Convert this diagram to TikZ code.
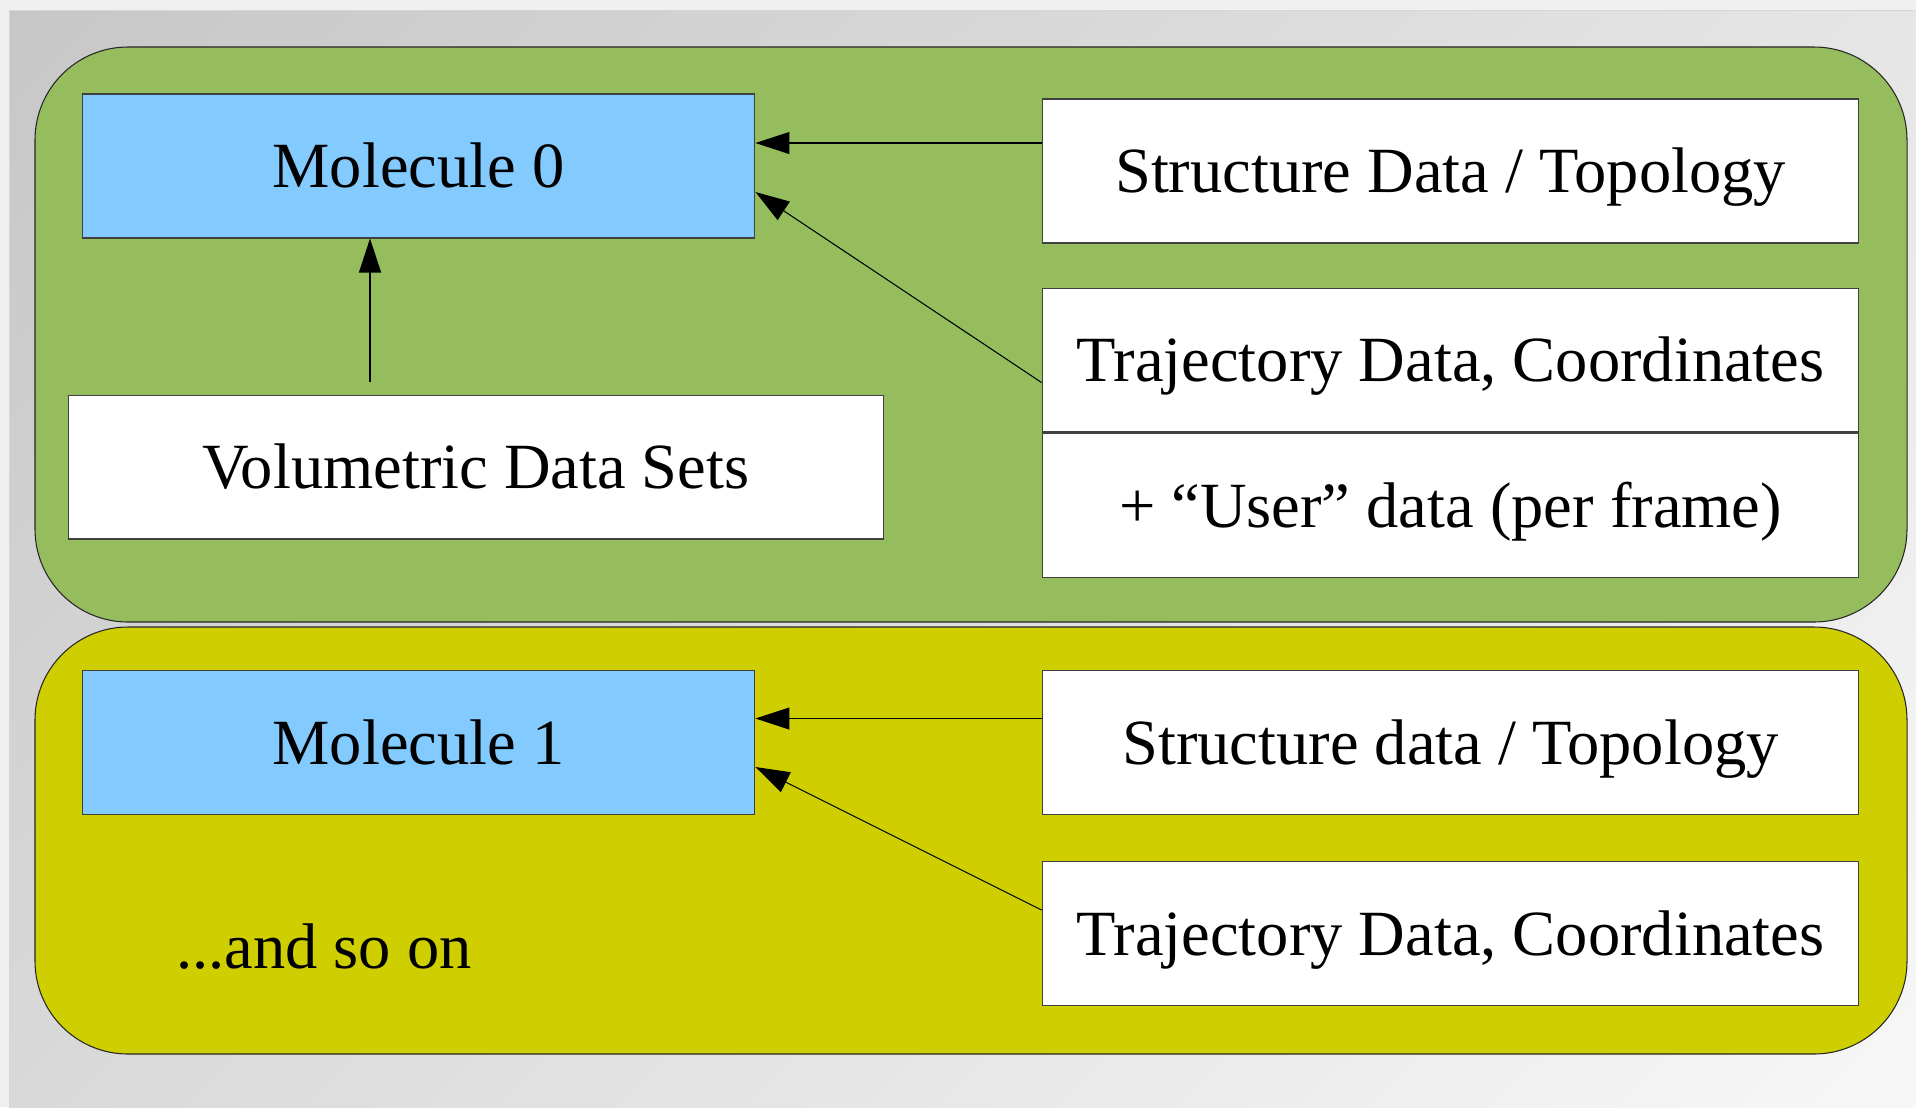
\documentclass[tikz,border=0pt]{standalone}
\usepackage{fontspec}
\setmainfont{Liberation Serif}
\usetikzlibrary{arrows.meta,shadings}
\usetikzlibrary{positioning,shapes}

\definecolor{molgreen}{HTML}{95BD5E}
\definecolor{molyellow}{HTML}{CECE00}
\definecolor{molblue}{HTML}{83CAFF}

\begin{document}
\begin{tikzpicture}[x=0.02cm,y=-0.02cm,
  every node/.style={font=\fontsize{36.7}{44}\selectfont},
  box/.style={draw=black!75,line width=0.6pt,fill=white,minimum height=2.88cm,inner sep=0pt,
    text height=25pt,text depth=0pt},
  mol/.style={box,fill=molblue,minimum width=13.46cm},
  src/.style={box,minimum width=16.34cm},
  group/.style={draw=black!85,line width=0.6pt,rounded corners=1.86cm},
  ar/.style={-{Triangle[length=0.68cm,width=0.44cm]},line width=0.6pt}]
  % backdrop
  \useasboundingbox (0,0) rectangle (1916,1107);
  \fill[black!6] (0,0) rectangle (1916,1107);
  \shade[upper left=black!22,upper right=black!10,lower left=black!15,lower right=black!3]
    (9,10) rectangle (1916,1107);
  \draw[black!16] (9,1107) -- (9,10) -- (1916,10);
  % the two molecule groups
  \draw[group,fill=molgreen] (35,47) rectangle (1907,622);
  \draw[group,fill=molyellow] (35,627) rectangle (1907,1054);

  \node[mol] (M0) at (418.5,166) {Molecule 0};
  \node[src] (S0) at (1450.5,171) {Structure Data / Topology};
  \node[src,below=0.88cm of S0] (T0) {Trajectory Data, Coordinates};
  \node[src,below=0pt of T0] (U0) {+ “User” data (per frame)};
  \node[box,minimum width=16.32cm] (V0) at (476,467) {Volumetric Data Sets};

  \node[mol] (M1) at (418.5,742.5) {Molecule 1};
  \node[src] (S1) at (1450.5,742.5) {Structure data / Topology};
  \node[src,below=0.92cm of S1] (T1) {Trajectory Data, Coordinates};
  \node (R) at (324,947) {...and so on};

  \coordinate (a0) at ([yshift=0.56cm]S0.west);
  \coordinate (b0) at ([yshift=-0.45cm]T0.west);
  \coordinate (c0) at ([xshift=-2.12cm,yshift=0.26cm]V0.north);
  \draw[ar] (a0) -- (a0 -| M0.east);
  \draw[ar] (b0) -- ([yshift=-0.52cm]M0.east);
  \draw[ar] (c0) -- (c0 |- M0.south);

  \coordinate (a1) at ([yshift=0.48cm]S1.west);
  \coordinate (b1) at ([yshift=0.47cm]T1.west);
  \draw[ar] (a1) -- (a1 -| M1.east);
  \draw[ar] (b1) -- ([yshift=-0.49cm]M1.east);
\end{tikzpicture}
\end{document}
